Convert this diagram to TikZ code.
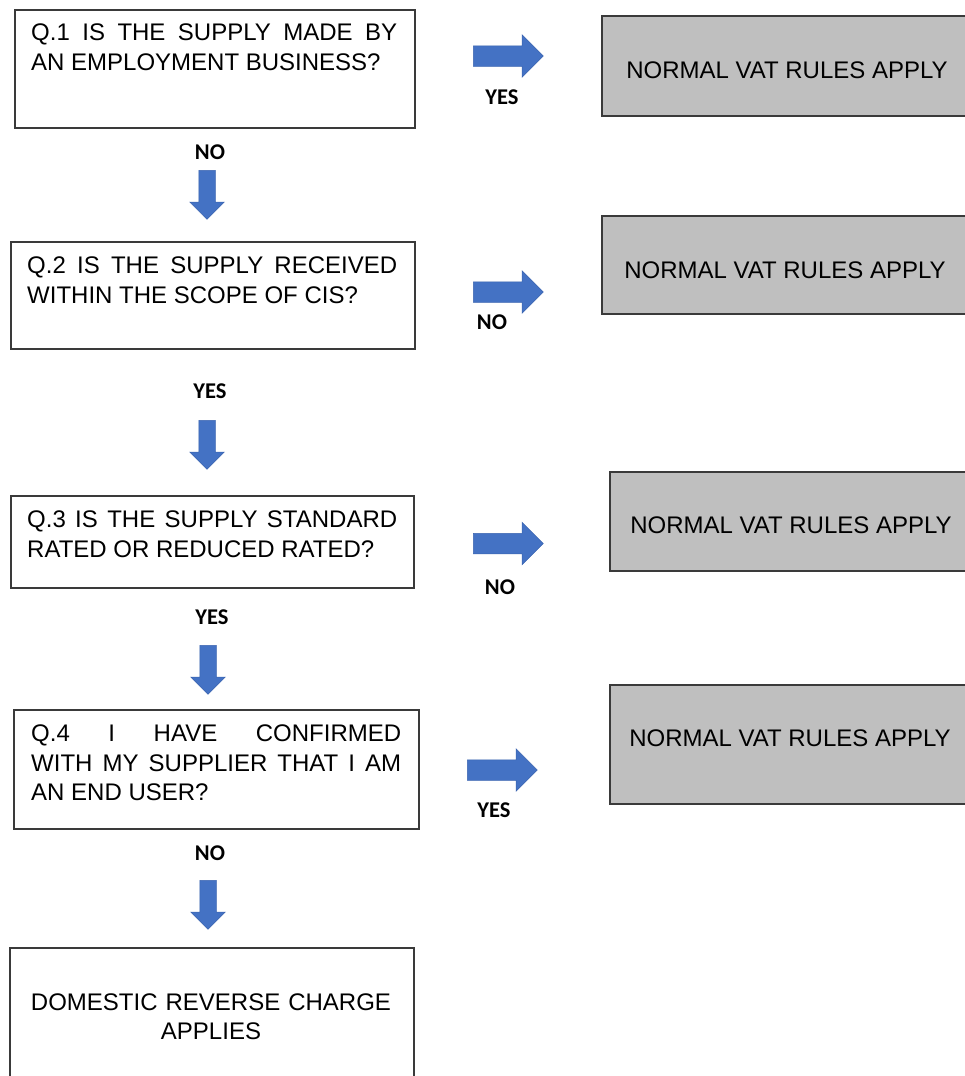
\documentclass[tikz,border=0pt]{standalone}
\usepackage{fontspec}
\setmainfont{Liberation Sans}
\newfontfamily\lblfont{Carlito}
\usetikzlibrary{shapes.arrows}
\definecolor{boxline}{HTML}{3A3A3A}
\definecolor{grayfill}{HTML}{BFBFBF}
\definecolor{arrowblue}{HTML}{4472C4}
\definecolor{arrowedge}{HTML}{3A64B0}
\tikzset{
  qbox/.style={draw=boxline, line width=1.5pt, fill=white, rectangle, inner sep=0pt, anchor=north west},
  graybox/.style={draw=boxline, line width=1.5pt, fill=grayfill, rectangle, inner sep=0pt, anchor=north west},
  qtext/.style={anchor=north west, inner sep=0pt, align=justify, font=\fontsize{24}{29.5}\selectfont},
  ctext/.style={anchor=north, inner sep=0pt, align=center, font=\fontsize{24}{29.5}\selectfont},
  vattext/.style={anchor=base, inner sep=0pt, font=\fontsize{24}{29.5}\selectfont},
  lbl/.style={inner sep=0pt, font=\lblfont\bfseries\fontsize{22.5}{26}\selectfont},
  rarrow/.style={single arrow, fill=arrowblue, draw=arrowedge, line width=0.5pt, inner xsep=0pt, inner ysep=10pt,
    minimum height=70pt, minimum width=42pt, single arrow head extend=11pt, anchor=tail},
  darrow/.style={single arrow, fill=arrowblue, draw=arrowedge, line width=0.5pt, inner xsep=0pt, inner ysep=8pt,
    minimum height=49pt, minimum width=34pt, single arrow head extend=9pt, rotate=-90, anchor=tail}
}
\begin{document}
\begin{tikzpicture}[x=1pt,y=-1pt]
\clip (0,0) rectangle (965,1076);
\fill[white] (0,0) rectangle (965,1076);

% question boxes
\node[qbox, minimum width=400pt, minimum height=118pt] (q1) at (14,9) {};
\node[qtext, text width=366pt] (q1t) at (31,20.6) {\hyphenpenalty=10000\rule{0pt}{20pt}Q.1 IS THE SUPPLY MADE BY\linebreak AN EMPLOYMENT BUSINESS?};

\node[qbox, minimum width=404pt, minimum height=107pt] (q2) at (10,241) {};
\node[qtext, text width=370pt] (q2t) at (27,253.3) {\hyphenpenalty=10000\rule{0pt}{20pt}Q.2 IS THE SUPPLY RECEIVED\linebreak WITHIN THE SCOPE OF CIS?};

\node[qbox, minimum width=403pt, minimum height=92pt] (q3) at (10,495) {};
\node[qtext, text width=370pt] (q3t) at (27,507.6) {\hyphenpenalty=10000\rule{0pt}{20pt}Q.3 IS THE SUPPLY STANDARD\linebreak RATED OR REDUCED RATED?};

\node[qbox, minimum width=405pt, minimum height=119pt] (q4) at (13,709) {};
\node[qtext, text width=370pt] (q4t) at (31,721.6) {\hyphenpenalty=10000\rule{0pt}{20pt}Q.4 I HAVE CONFIRMED\linebreak WITH MY SUPPLIER THAT I AM\linebreak AN END USER?};

% final box (runs off the bottom)
\node[qbox, minimum width=404pt, minimum height=160pt] (res) at (9,947) {};
\node[ctext, text width=380pt] (rest) at (211,990) {\rule{0pt}{20pt}DOMESTIC REVERSE CHARGE\\APPLIES};

% grey outcome boxes (run off the right edge)
\node[graybox, minimum width=380pt, minimum height=100pt] (g1) at (601,15) {};
\node[vattext] (g1t) at (787,78.6) {NORMAL VAT RULES APPLY};
\node[graybox, minimum width=380pt, minimum height=98pt] (g2) at (601,215) {};
\node[vattext] (g2t) at (785,278.6) {NORMAL VAT RULES APPLY};
\node[graybox, minimum width=380pt, minimum height=99pt] (g3) at (609,471) {};
\node[vattext] (g3t) at (791,533.6) {NORMAL VAT RULES APPLY};
\node[graybox, minimum width=380pt, minimum height=119pt] (g4) at (609,684) {};
\node[vattext] (g4t) at (790,746.6) {NORMAL VAT RULES APPLY};

% block arrows
\node[rarrow] (r1) at (473,56) {};
\node[rarrow] (r2) at (473,292) {};
\node[rarrow] (r3) at (473,543.5) {};
\node[rarrow] (r4) at (467,770) {};
\node[darrow] (d1) at (207,170) {};
\node[darrow] (d2) at (207,420) {};
\node[darrow] (d3) at (208,645) {};
\node[darrow] (d4) at (208,880) {};

% labels
\node[lbl] (l1) at (502,97) {YES};
\node[lbl] (l2) at (210,152) {NO};
\node[lbl] (l3) at (492,322) {NO};
\node[lbl] (l4) at (210,391) {YES};
\node[lbl] (l5) at (500,587) {NO};
\node[lbl] (l6) at (212,617) {YES};
\node[lbl] (l7) at (494,810) {YES};
\node[lbl] (l8) at (210,853) {NO};
\end{tikzpicture}
\end{document}
